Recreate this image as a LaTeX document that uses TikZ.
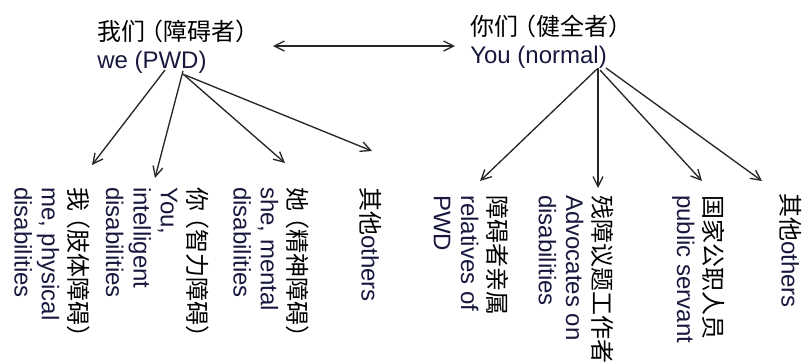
\documentclass[tikz,border=0pt]{standalone}
\usepackage{fontspec}
\setmainfont{Liberation Sans}
\newfontfamily\cjk{Noto Sans CJK SC}
\usetikzlibrary{arrows.meta}
\definecolor{lat}{RGB}{24,24,62}
\newcommand\zlp{\kern-.25em（}
\newcommand\zrp{）\kern-.25em}
\newcommand\zh[1]{{\cjk\color{black}#1}}
\begin{document}
\begin{tikzpicture}[x=0.75pt,y=-0.75pt,
  lab/.style={inner sep=0pt, font=\fontsize{18pt}{20.5pt}\selectfont, text=lat, align=left},
  vlab/.style={lab, rotate=-90, anchor=north west},
  hlab/.style={lab, anchor=north west},
  tip/.tip={Straight Barb[length=7.5pt,width=7.5pt]},
  arr/.style={draw=black!85, line width=1pt, -tip},
  dbl/.style={draw=black!85, line width=1pt, tip-tip}]
\useasboundingbox (0,0) rectangle (806,362);
% headings
\node[hlab] (we) at (97,20) {\zh{我们\zlp 障碍者\zrp}\\we (PWD)};
\node[hlab] (you) at (470,15) {\zh{你们\zlp 健全者\zrp}\\You (normal)};
% left children
\node[vlab] (a1) at (90,187) {\zh{我\zlp 肢体障碍\zrp}\\me, physical\\disabilities};
\node[vlab] (a2) at (209,187) {\zh{你\zlp 智力障碍\zrp}\\You,\\intelligent\\disabilities};
\node[vlab] (a3) at (309,187) {\zh{她\zlp 精神障碍\zrp}\\she, mental\\disabilities};
\node[vlab] (a4) at (382,187) {\zh{其他}others};
% right children
\node[vlab] (b1) at (509,195) {\zh{障碍者亲属}\\relatives of\\PWD};
\node[vlab] (b2) at (614,195) {\zh{残障议题工作者}\\Advocates on\\disabilities};
\node[vlab] (b3) at (725,195) {\zh{国家公职人员}\\public servant};
\node[vlab] (b4) at (802,193) {\zh{其他}others};
% connector ends
\coordinate (d1) at (273,46);
\coordinate (d2) at (455,46);
\coordinate (ws1) at (165,70);
\coordinate (ws2) at (183,71);
\coordinate (ws3) at (183,74);
\coordinate (ws4) at (185,75);
\coordinate (ta1) at (92,165);
\coordinate (ta2) at (155,178);
\coordinate (ta3) at (285,163);
\coordinate (ta4) at (372,151);
\coordinate (ys1) at (597,69);
\coordinate (ys2) at (598,68);
\coordinate (ys3) at (600,70);
\coordinate (ys4) at (606,68);
\coordinate (tb1) at (480,181);
\coordinate (tb2) at (598,188);
\coordinate (tb3) at (702,181);
\coordinate (tb4) at (762,181);
\draw[dbl] (d1) -- (d2);
\draw[arr] (ws1) -- (ta1);
\draw[arr] (ws2) -- (ta2);
\draw[arr] (ws3) -- (ta3);
\draw[arr] (ws4) -- (ta4);
\draw[arr] (ys1) -- (tb1);
\draw[arr] (ys2) -- (tb2);
\draw[arr] (ys3) -- (tb3);
\draw[arr] (ys4) -- (tb4);
\end{tikzpicture}
\end{document}
